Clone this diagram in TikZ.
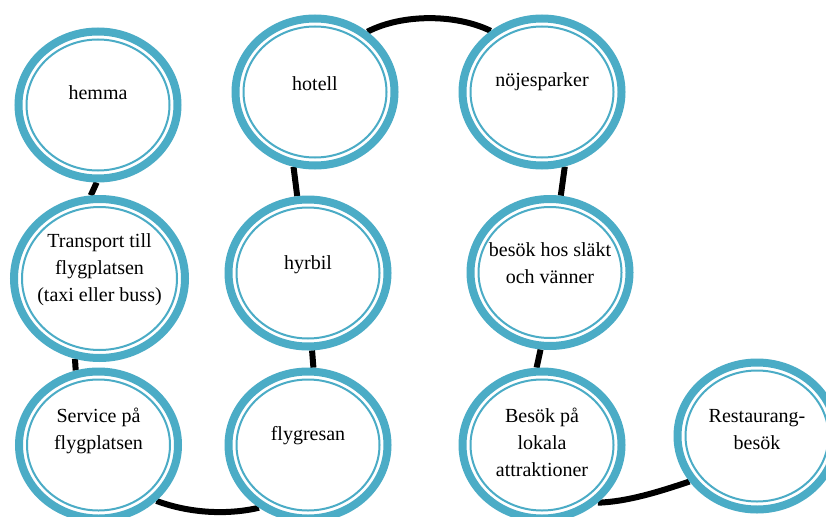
\documentclass[tikz,border=0pt]{standalone}
\usepackage{fontspec}
\setmainfont{Liberation Serif}
\usetikzlibrary{shapes.geometric,calc,backgrounds}
\definecolor{ringc}{HTML}{4BACC6}
\tikzset{
  ring/.style={ellipse, draw=ringc, line width=8pt, fill=white, inner sep=0pt,
    minimum width=159pt, minimum height=147pt,
    path picture={\draw[ringc, line width=2pt]
      let \p1=(path picture bounding box.north east),
          \p2=(path picture bounding box.center) in
      (\p2) ellipse [x radius={\x1-\x2-8pt}, y radius={\y1-\y2-8pt}];}},
  bigring/.style={ring, minimum width=171pt, minimum height=159pt},
  txt/.style={align=center, inner sep=0pt, font=\fontsize{20}{27}\selectfont},
  conn/.style={line width=6pt, black}
}
\begin{document}
\begin{tikzpicture}[x=1pt,y=-1pt]
\useasboundingbox (0,0) rectangle (826,516);
% circles
\node[ring] (hemma) at (98,105) {};
\node[bigring] (transport) at (99.5,278.5) {};
\node[ring] (service) at (98.5,445) {};
\node[ring] (flygresan) at (308,445) {};
\node[ring] (hyrbil) at (308,273) {};
\node[ring] (hotell) at (315,92) {};
\node[ring] (nojes) at (542,92) {};
\node[ring] (besokhos) at (550,272.5) {};
\node[ring] (besokpa) at (542,445) {};
\node[ring] (restaurang) at (757,436) {};
% texts
\node[txt] (hemma-t) at (98,93) {hemma};
\node[txt] (transport-t) at (99.5,270) {Transport till\\flygplatsen\\(taxi eller buss)};
\node[txt] (service-t) at (98.5,431) {Service på\\flygplatsen};
\node[txt] (flygresan-t) at (308,436) {flygresan};
\node[txt] (hyrbil-t) at (308,265) {hyrbil};
\node[txt] (hotell-t) at (315,84) {hotell};
\node[txt] (nojes-t) at (542,82) {nöjesparker};
\node[txt] (besokhos-t) at (550,263) {besök hos släkt\\och vänner};
\node[txt] (besokpa-t) at (542,442) {Besök på\\lokala\\attraktioner};
\node[txt] (restaurang-t) at (757,430) {Restaurang-\\besök};
% connectors
\begin{scope}[on background layer]
\fill[white] (0,0) rectangle (826,516);
\draw[conn] (hemma.269) -- (transport.96);
\draw[conn] (transport.253) -- (service.107);
\draw[conn] (service.-44) .. controls +(35,13) and +(-30,7) .. (flygresan.232);
\draw[conn] (flygresan.86) -- (hyrbil.273);
\draw[conn] (hyrbil.98) -- (hotell.254);
\draw[conn] (hotell.49) .. controls +(35,-18) and +(-35,-17) .. (nojes.130);
\draw[conn] (nojes.287) -- (besokhos.82);
\draw[conn] (besokhos.263) -- (besokpa.94);
\draw[conn] (besokpa.-46) .. controls +(30,-1) and +(-30,10) .. (restaurang.214);
\end{scope}
\end{tikzpicture}
\end{document}
